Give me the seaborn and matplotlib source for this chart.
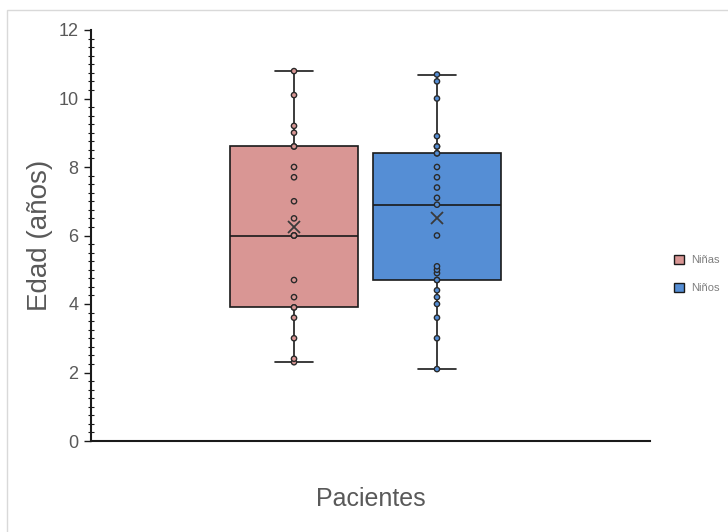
import matplotlib
matplotlib.use("Agg")
import matplotlib.pyplot as plt
import matplotlib.patches as mpatches
from matplotlib.ticker import MultipleLocator
import seaborn as sns
import pandas as pd

# ---- data ----
ninas = [2.3, 2.4, 3.0, 3.6, 3.9, 3.9, 4.2, 4.7, 6.0, 6.0, 6.0, 6.5, 7.0,
         7.7, 8.0, 8.6, 8.6, 9.0, 9.2, 10.1, 10.8]
ninos = [2.1, 3.0, 3.6, 4.0, 4.2, 4.4, 4.7, 4.7, 4.9, 5.0, 5.1, 6.0, 6.9,
         7.1, 7.4, 7.7, 8.0, 8.4, 8.4, 8.6, 8.6, 8.9, 10.0, 10.5, 10.7]
groups = ["Niñas", "Niños"]
category = "Pacientes"
colors = ["#D99694", "#558ED5"]
yticks = [0, 2, 4, 6, 8, 10, 12]

df = pd.DataFrame({
    "Edad": ninas + ninos,
    "Grupo": [groups[0]] * len(ninas) + [groups[1]] * len(ninos),
    "Cat": [category] * (len(ninas) + len(ninos)),
})

sns.set_style("white")
plt.rcParams["font.family"] = ["Liberation Sans", "DejaVu Sans"]

fig = plt.figure(figsize=(7.28, 5.32), dpi=100)
ax = fig.add_axes([91 / 728, 1 - 441 / 532, (650 - 91) / 728, (441 - 30) / 532])

palette = dict(zip(groups, colors))
sns.boxplot(data=df, x="Cat", y="Edad", hue="Grupo", hue_order=groups,
            palette=palette, width=0.8, gap=0.1, whis=(0, 100),
            linecolor="#1a1a1a", linewidth=1.2, saturation=1,
            showmeans=True, capwidths=0.108,
            meanprops=dict(marker="x", markeredgecolor="#3a3a3a",
                           markersize=8, markeredgewidth=1.3),
            legend=False, ax=ax)
sns.stripplot(data=df, x="Cat", y="Edad", hue="Grupo", hue_order=groups,
              palette=palette, dodge=True, jitter=False, size=3.8,
              linewidth=1, edgecolor="#2a2a2a", legend=False, ax=ax, zorder=5)

ax.set_xlim(-0.768, 0.796)
ax.set_ylim(0, 12)
ax.set_yticks(yticks)
ax.yaxis.set_minor_locator(MultipleLocator(0.25))
ax.tick_params(axis="y", which="major", direction="out", length=5, width=1,
               color="#1a1a1a", labelsize=13, labelcolor="#595959", pad=4,
               left=True)
ax.tick_params(axis="y", which="minor", direction="inout", length=4, width=0.8,
               color="#1a1a1a", left=True)
ax.set_xticks([])
for s in ["top", "right"]:
    ax.spines[s].set_visible(False)
for s in ["left", "bottom"]:
    ax.spines[s].set_color("#1a1a1a")
    ax.spines[s].set_linewidth(1.5)

ax.set_ylabel("Edad (años)", fontsize=20, color="#595959", labelpad=4)
ax.set_xlabel("Pacientes", fontsize=18, color="#595959", labelpad=33)

handles = [mpatches.Patch(facecolor=c, edgecolor="#1a1a1a", linewidth=1)
           for c in colors]
fig.legend(handles, groups, loc="center left",
           bbox_to_anchor=(664 / 728, 1 - 274 / 532), frameon=False,
           fontsize=8, labelcolor="#7f7f7f", handlelength=0.9,
           handleheight=0.9, labelspacing=1.6, handletextpad=0.6)

fig.patches.append(mpatches.Rectangle((7 / 728, -0.5), 2.0, 0.5 + 1 - 10 / 532,
                                      transform=fig.transFigure, fill=False,
                                      edgecolor="#d9d9d9", linewidth=1))

fig.savefig("out.png", dpi=100)
